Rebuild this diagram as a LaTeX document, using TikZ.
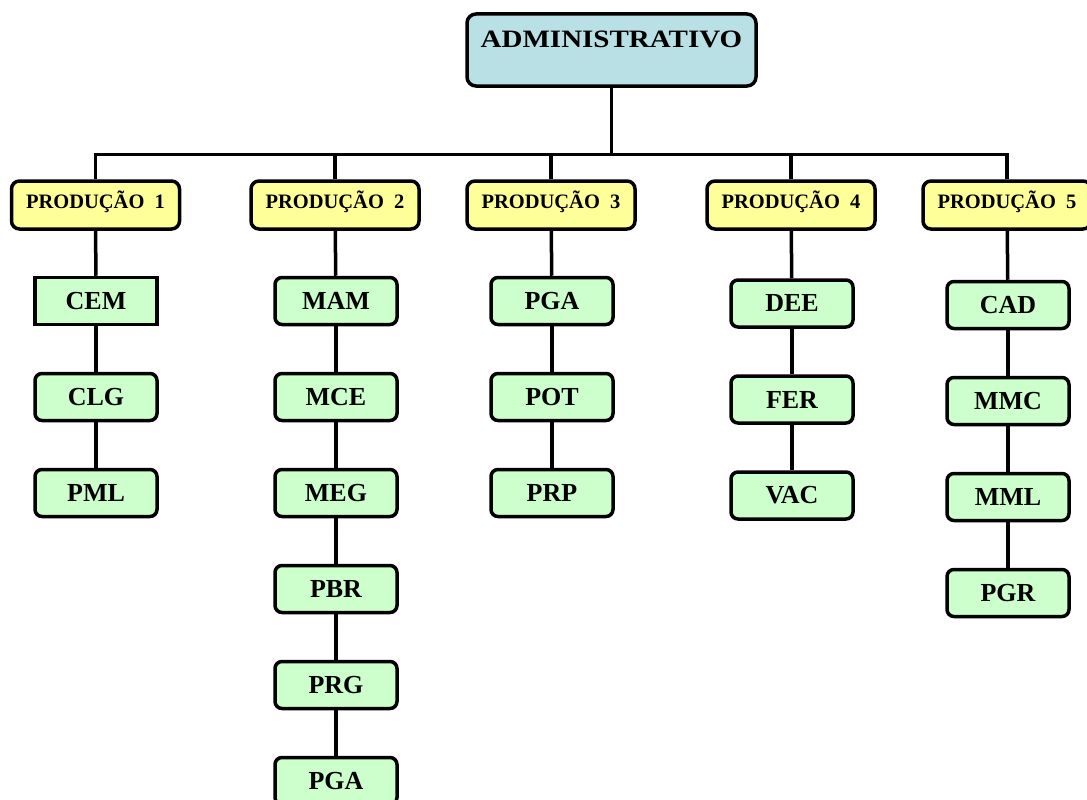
\documentclass[tikz,border=0pt]{standalone}
\usepackage{fontspec}
\setmainfont{Liberation Serif}
\newfontfamily\widefont[FakeStretch=1.16]{Liberation Serif}
\usepackage{xcolor}
\usetikzlibrary{shapes, arrows, positioning, fit, calc}

\definecolor{admblue}{HTML}{B9E0E4}
\definecolor{prodyellow}{HTML}{FFFF99}
\definecolor{unitgreen}{HTML}{CCFFCC}

\begin{document}
\begin{tikzpicture}[x=1pt, y=-1pt,
        top/.style={rectangle, draw, line width=3.5pt, fill=admblue, rounded corners=9pt, minimum width=289pt, inner ysep=0pt, text height=34pt, text depth=38pt, font=\widefont\fontsize{25}{27}\selectfont\bfseries},
        prod/.style={rectangle, draw, line width=3.5pt, fill=prodyellow, rounded corners=8pt, minimum width=168pt, inner ysep=0pt, text height=27pt, text depth=21pt, font=\fontsize{20.5}{22}\selectfont\bfseries},
        unit/.style={rectangle, draw, line width=3.5pt, fill=unitgreen, rounded corners=7pt, minimum width=122pt, minimum height=47pt, inner ysep=0pt, font=\fontsize{26}{28}\selectfont\bfseries},
        line/.style={draw, line width=3.5pt}]

        \useasboundingbox (0,0) rectangle (1087,800);

        % Nodes
        \node [top] (adm) at (611.5,50) {ADMINISTRATIVO};

        \node [prod] (prod1) at (95.5,205) {PRODUÇÃO~ 1};
        \node [prod] (prod2) at (335,205) {PRODUÇÃO~ 2};
        \node [prod] (prod3) at (551,205) {PRODUÇÃO~ 3};
        \node [prod] (prod4) at (791,205) {PRODUÇÃO~ 4};
        \node [prod] (prod5) at (1007,205) {PRODUÇÃO~ 5};

        % Producao 1
        \node [unit, sharp corners] (cem) at (96,301) {CEM};
        \node [unit, below=45.5pt of cem] (clg) {CLG};
        \node [unit, below=45.5pt of clg] (pml) {PML};

        % Producao 2
        \node [unit] (mam) at (336,301) {MAM};
        \node [unit, below=45.5pt of mam] (mce) {MCE};
        \node [unit, below=45.5pt of mce] (meg) {MEG};
        \node [unit, below=45.5pt of meg] (pbr) {PBR};
        \node [unit, below=45.5pt of pbr] (prg) {PRG};
        \node [unit, below=45.5pt of prg] (pgab) {PGA};

        % Producao 3
        \node [unit] (pga) at (552,301) {PGA};
        \node [unit, below=45.5pt of pga] (pot) {POT};
        \node [unit, below=45.5pt of pot] (prp) {PRP};

        % Producao 4
        \node [unit] (dee) at (792,303.5) {DEE};
        \node [unit, below=45.5pt of dee] (fer) {FER};
        \node [unit, below=45.5pt of fer] (vac) {VAC};

        % Producao 5
        \node [unit] (cad) at (1008,305) {CAD};
        \node [unit, below=45.5pt of cad] (mmc) {MMC};
        \node [unit, below=45.5pt of mmc] (mml) {MML};
        \node [unit, below=45.5pt of mml] (pgr) {PGR};

        % Paths
        \path [line] (prod1.north) -- ++(0,-25) -| (adm.south);
        \path [line] (prod2.north) -- ++(0,-25) -| (adm.south);
        \path [line] (prod3.north) -- ++(0,-25) -| (adm.south);
        \path [line] (prod4.north) -- ++(0,-25) -| (adm.south);
        \path [line] (prod5.north) -- ++(0,-25) -| (adm.south);

        \path [line] (prod1) -- (cem);
        \path [line] (cem) -- (clg);
        \path [line] (clg) -- (pml);

        \path [line] (prod2) -- (mam);
        \path [line] (mam) -- (mce);
        \path [line] (mce) -- (meg);
        \path [line] (meg) -- (pbr);
        \path [line] (pbr) -- (prg);
        \path [line] (prg) -- (pgab);

        \path [line] (prod3) -- (pga);
        \path [line] (pga) -- (pot);
        \path [line] (pot) -- (prp);

        \path [line] (prod4) -- (dee);
        \path [line] (dee) -- (fer);
        \path [line] (fer) -- (vac);

        \path [line] (prod5) -- (cad);
        \path [line] (cad) -- (mmc);
        \path [line] (mmc) -- (mml);
        \path [line] (mml) -- (pgr);

    \end{tikzpicture}
\end{document}
